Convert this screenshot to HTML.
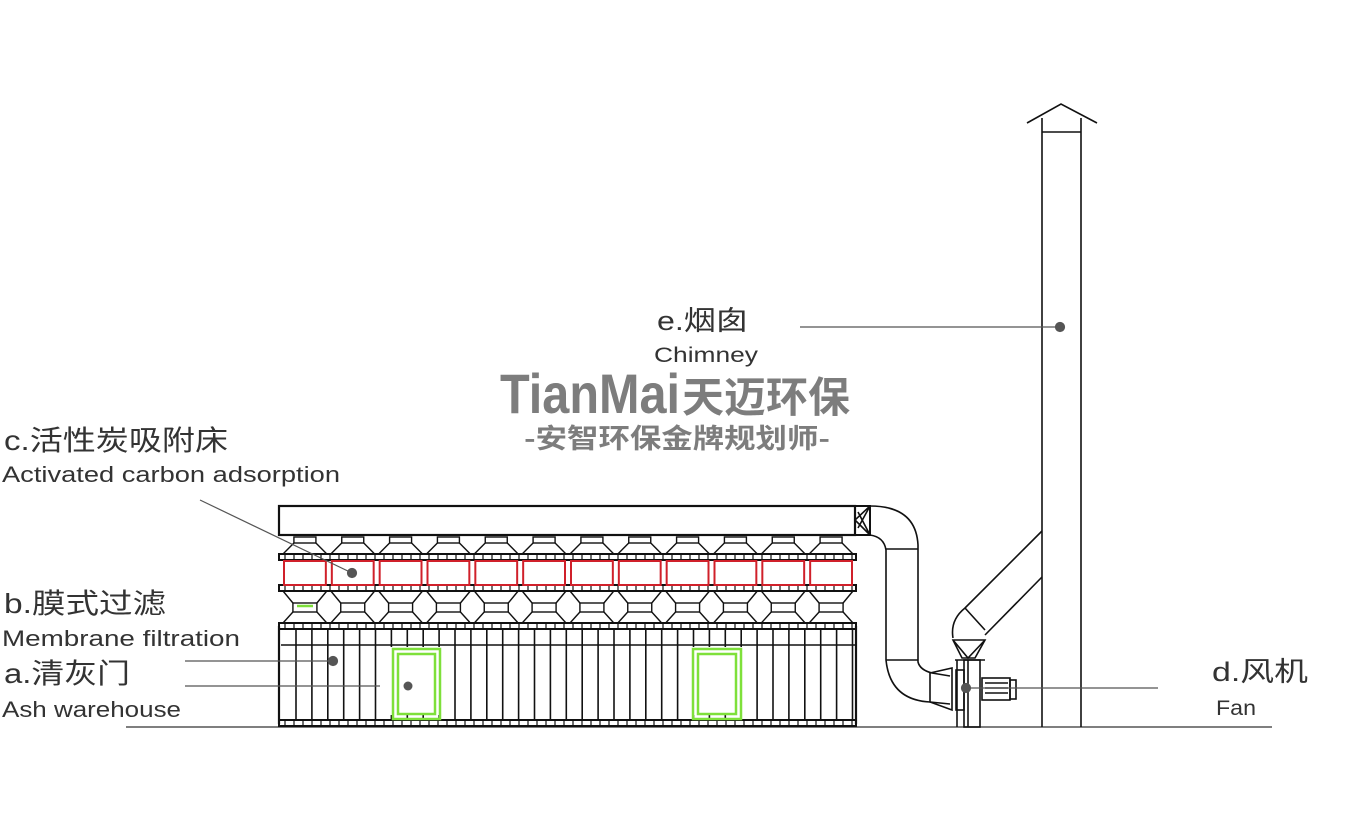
<!DOCTYPE html>
<html><head><meta charset="utf-8"><style>
html,body{margin:0;padding:0;background:#fff;}
svg{display:block}
.t{font-family:"Liberation Sans","Noto Sans CJK SC",sans-serif;fill:#333}
</style></head><body>
<svg id="s" width="1350" height="816" viewBox="0 0 1350 816" xmlns="http://www.w3.org/2000/svg">
<g fill="none" stroke="#111" stroke-width="1.6">
<line x1="126" y1="727" x2="1272" y2="727" stroke="#555" stroke-width="1.5"/>
<line x1="1042" y1="118" x2="1042" y2="727"/>
<line x1="1081" y1="118" x2="1081" y2="727"/>
<polyline points="1027,123 1061,104 1097,123"/>
<line x1="1042" y1="132" x2="1081" y2="132"/>
<rect x="279" y="506" width="576" height="29" stroke-width="2.2"/>
<rect x="855" y="506" width="15" height="29" stroke-width="2"/>
<path d="M870 506 L855 520 L870 535 M870 506 L858 528 M870 535 L858 512"/>
<path d="M870 506 Q916 506 918 545 L918 662 Q920 670 932 673 L950 676"/>
<path d="M870 535 Q884 537 886 550 L886 660 Q890 700 930 702 L950 704"/>
<line x1="886" y1="549" x2="918" y2="549"/>
<line x1="886" y1="660" x2="918" y2="660"/>
<path d="M930 673 L952 668 L952 710 L930 702 Z"/>
<rect x="956" y="670" width="8" height="40"/>
<rect x="964" y="660" width="16" height="67"/>
<line x1="957" y1="660" x2="957" y2="727"/>
<line x1="968" y1="660" x2="968" y2="727"/>
<line x1="955" y1="660" x2="985" y2="660"/>
<rect x="982" y="678" width="28" height="22"/>
<rect x="1010" y="680" width="6" height="19"/>
<line x1="985" y1="683" x2="1008" y2="683"/><line x1="985" y1="688" x2="1008" y2="688"/><line x1="985" y1="693" x2="1008" y2="693"/>
<path d="M953 638 Q950 620 965 608 L1042 531"/>
<path d="M985 635 L1042 577"/>
<line x1="965" y1="608" x2="985" y2="630"/>
<path d="M953 640 L985 640 L975 658 L962 658 Z"/>
<path d="M953 640 L968 658 L985 640"/>
</g>
<g id="mach" fill="none" stroke="#111" stroke-width="1.4"></g>
<g stroke="#555" stroke-width="1.2" fill="#555">
<line x1="800" y1="327" x2="1060" y2="327"/><circle cx="1060" cy="327" r="4.5"/>
<line x1="200" y1="500" x2="352" y2="573"/><circle cx="352" cy="573" r="4.5"/>
<line x1="185" y1="661" x2="333" y2="661"/><circle cx="333" cy="661" r="4.5"/>
<line x1="185" y1="686" x2="408" y2="686"/><circle cx="408" cy="686" r="4.5"/>
<line x1="966" y1="688" x2="1158" y2="688"/><circle cx="966" cy="688" r="4.5"/>
</g>
<text class="t" x="657" y="330" font-size="27" textLength="91" lengthAdjust="spacingAndGlyphs">e.烟囱</text>
<text class="t" x="654" y="362" font-size="21" textLength="104" lengthAdjust="spacingAndGlyphs">Chimney</text>
<text class="t" x="4" y="450" font-size="28" textLength="224" lengthAdjust="spacingAndGlyphs">c.活性炭吸附床</text>
<text class="t" x="2" y="482" font-size="22" textLength="338" lengthAdjust="spacingAndGlyphs">Activated carbon adsorption</text>
<text class="t" x="4" y="613" font-size="28" textLength="162" lengthAdjust="spacingAndGlyphs">b.膜式过滤</text>
<text class="t" x="2" y="646" font-size="22" textLength="238" lengthAdjust="spacingAndGlyphs">Membrane filtration</text>
<text class="t" x="4" y="683" font-size="28" textLength="126" lengthAdjust="spacingAndGlyphs">a.清灰门</text>
<text class="t" x="2" y="717" font-size="22" textLength="179" lengthAdjust="spacingAndGlyphs">Ash warehouse</text>
<text class="t" x="1212" y="681" font-size="27" textLength="96" lengthAdjust="spacingAndGlyphs">d.风机</text>
<text class="t" x="1216" y="715" font-size="21" textLength="40" lengthAdjust="spacingAndGlyphs">Fan</text>
<text x="500" y="413" font-size="56" font-weight="bold" fill="#7d7d7d" font-family="'Liberation Sans Narrow','Liberation Sans',sans-serif" textLength="180" lengthAdjust="spacingAndGlyphs">TianMai</text>
<text x="682" y="412" font-size="42" font-weight="bold" fill="#7d7d7d" font-family="'Noto Sans CJK SC',sans-serif" textLength="168" lengthAdjust="spacingAndGlyphs">天迈环保</text>
<text x="524" y="448" font-size="27" font-weight="bold" fill="#7d7d7d" font-family="'Noto Sans CJK SC',sans-serif" textLength="306" lengthAdjust="spacingAndGlyphs">-安智环保金牌规划师-</text>
</svg>
<script>
var g=document.getElementById('mach'),h='';
var x0=281,x1=855,n=12,w=(x1-x0)/n;
function L(a,b,c,d,col,sw){h+='<line x1="'+a+'" y1="'+b+'" x2="'+c+'" y2="'+d+'"'+(col?' stroke="'+col+'"':'')+(sw?' stroke-width="'+sw+'"':'')+'/>';}
function R(a,b,c,d,col,sw){h+='<rect x="'+a+'" y="'+b+'" width="'+c+'" height="'+d+'"'+(col?' stroke="'+col+'"':'')+(sw?' stroke-width="'+sw+'"':'')+'/>';}
[557,588,626,723].forEach(function(y){R(x0-2,y-3,x1-x0+3,6,null,2);
 for(var x=x0+4;x<x1;x+=9){L(x,y-3,x,y+3,null,1.2);} });
for(var i=0;i<n;i++){var a=x0+i*w,c=a+w/2;
 R(c-11,537,22,6);L(c-11,543,a+2,554);L(c+11,543,a+w-2,554);
 R(a+3,561,w-6,24,'#d0202a',2);
 R(c-12,603,24,9);L(c-12,603,a+2,591);L(c+12,603,a+w-2,591);L(c-12,612,a+2,623);L(c+12,612,a+w-2,623);
}
L(x0-2,626,x0-2,724,null,2.2);L(x1+1,626,x1+1,724,null,2.2);
L(x0,645,x1,645);
for(var x=x0+15;x<x1;x+=15.9){L(x,629,x,720,null,1.6);}
g.innerHTML=h;
var s=document.getElementById('s');
s.insertAdjacentHTML('beforeend','<rect x="380" y="647" width="60" height="68" fill="#fff"/><rect x="680" y="647" width="62" height="68" fill="#fff"/>'+
'<g fill="none" stroke="#7ee03a" stroke-width="2.5"><rect x="393" y="649" width="47" height="70"/><rect x="398" y="654" width="37" height="60"/><rect x="693" y="649" width="48" height="70"/><rect x="698" y="654" width="38" height="60"/><line x1="297" y1="606" x2="313" y2="606"/></g>'+
'<circle cx="408" cy="686" r="4.5" fill="#555"/>');
</script>
</body></html>
